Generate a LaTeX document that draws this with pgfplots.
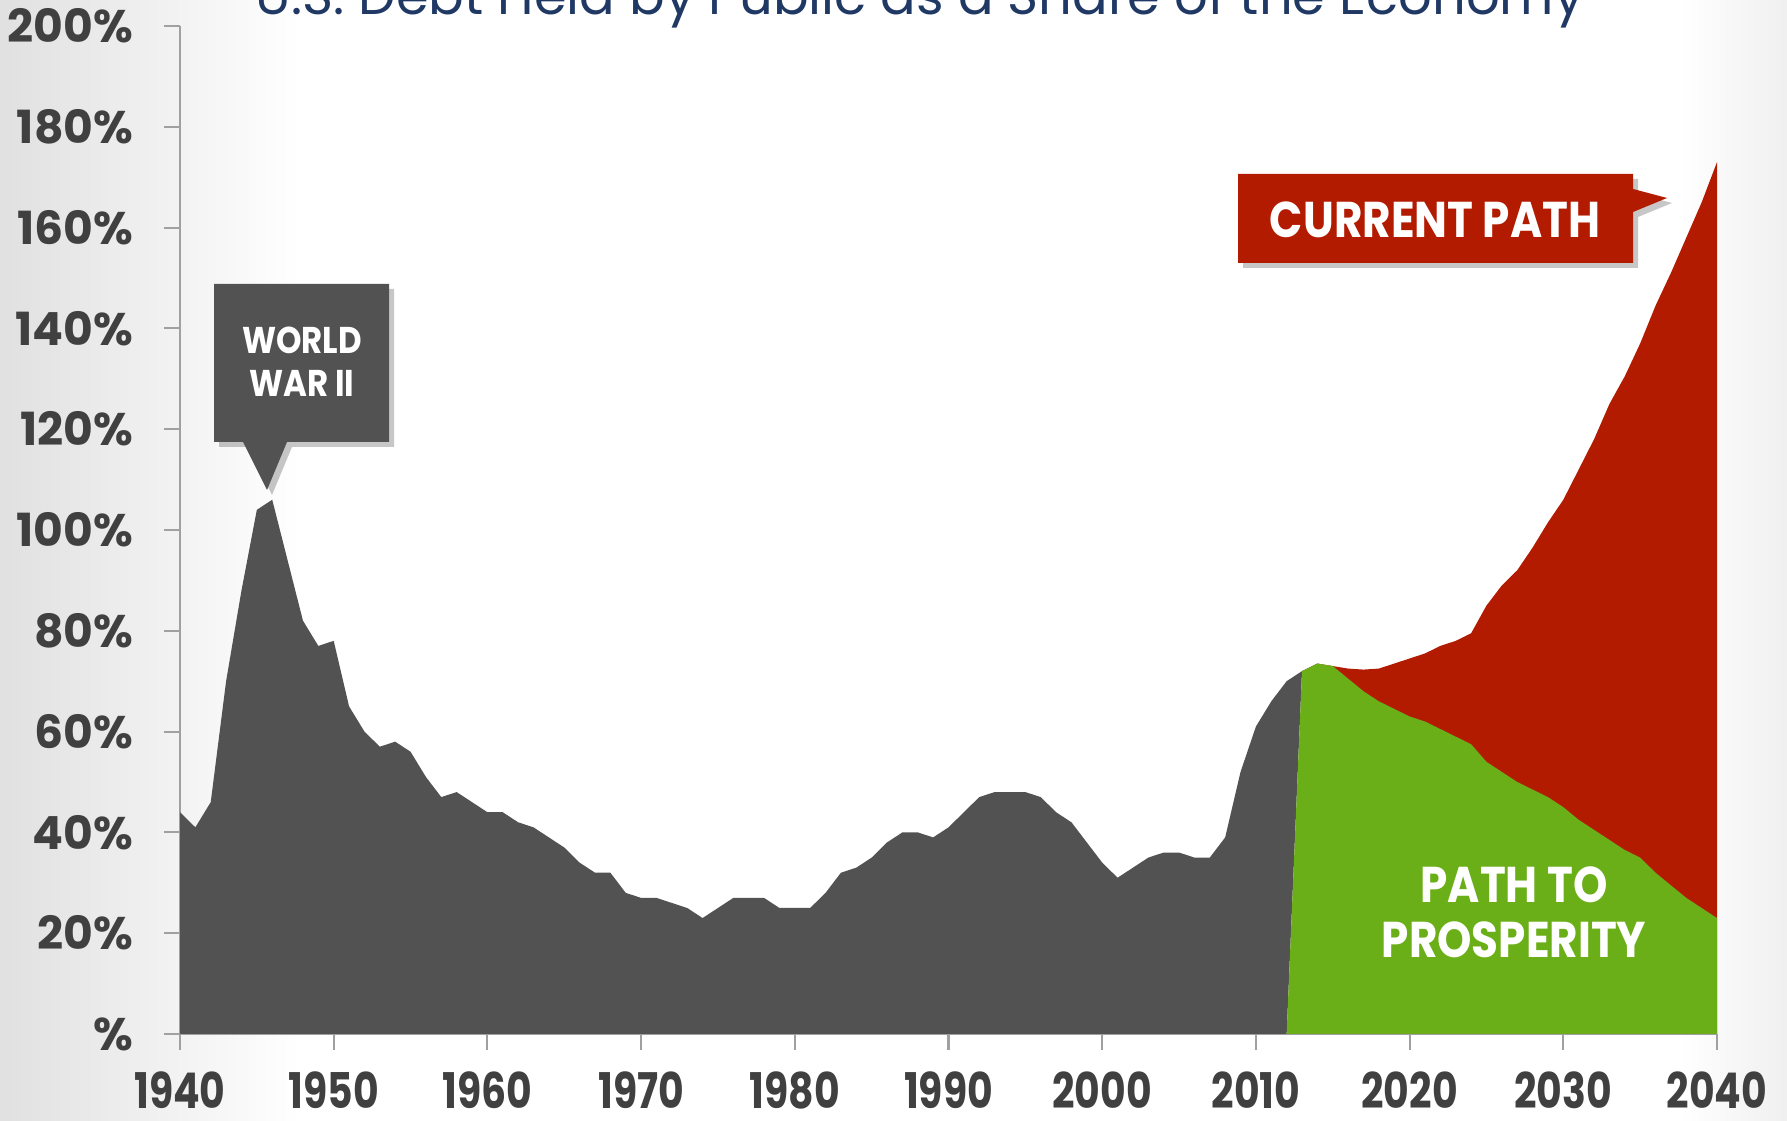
\documentclass[border=0pt]{standalone}
\usepackage{graphicx}
\usepackage{pgfplots}
\pgfplotsset{compat=1.18}
\usepackage{fontspec}
\setmainfont{Poppins}
\newfontfamily\condfont{Poppins}[FakeStretch=0.8]
\newfontfamily\narrowfont{Poppins}[FakeStretch=0.87]
\definecolor{histgray}{HTML}{525252}
\definecolor{curred}{HTML}{B31B00}
\definecolor{ptpgreen}{HTML}{6AAF17}
\definecolor{titleblue}{HTML}{1F3864}
\definecolor{labgray}{HTML}{404040}
\definecolor{axgray}{HTML}{A0A0A0}
\begin{document}
\begin{tikzpicture}[x=1mm,y=1mm]
\useasboundingbox (0,0) rectangle (178.7,112.1);
\fill[white] (0,0) rectangle (178.7,112.1);
\shade[left color=black!12, right color=white] (0,0) rectangle (30,112.1);
\shade[left color=white, right color=black!6] (168,0) rectangle (178.7,112.1);
\begin{axis}[
  at={(18mm,8.7mm)}, anchor=south west,
  scale only axis, width=153.7mm, height=100.8mm,
  xmin=1940, xmax=2040, ymin=0, ymax=200,
  axis x line*=bottom, axis y line*=left,
  axis line style={axgray, line width=0.6pt, -},
  tick style={axgray, line width=0.6pt},
  tick align=outside, major tick length=1.6mm,
  xtick={1940,1950,1960,1970,1980,1990,2000,2010,2020,2030,2040},
  xticklabels={1940,1950,1960,1970,1980,1990,2000,2010,2020,2030,2040},
  ytick={0,20,40,60,80,100,120,140,160,180,200},
  yticklabels={\%,20\%,40\%,60\%,80\%,100\%,120\%,140\%,160\%,180\%,200\%},
  yticklabel style={font=\bfseries\fontsize{13}{14}\selectfont, text=labgray, anchor=east, inner sep=0pt, xshift=-3.0mm},
  xticklabel style={font=\condfont\bfseries\fontsize{14}{15}\selectfont, text=labgray, anchor=base, inner sep=0pt, yshift=-5.9mm},
]
\addplot[draw=none, fill=histgray] coordinates {
(1940,0) (1940,44) (1941,41) (1942,46) (1943,70) (1944,88) (1945,104) (1946,106)
(1947,94) (1948,82) (1949,77) (1950,78) (1951,65) (1952,60) (1953,57) (1954,58)
(1955,56) (1956,51) (1957,47) (1958,48) (1959,46) (1960,44) (1961,44) (1962,42)
(1963,41) (1964,39) (1965,37) (1966,34) (1967,32) (1968,32) (1969,28) (1970,27)
(1971,27) (1972,26) (1973,25) (1974,23) (1975,25) (1976,27) (1977,27) (1978,27)
(1979,25) (1980,25) (1981,25) (1982,28) (1983,32) (1984,33) (1985,35) (1986,38)
(1987,40) (1988,40) (1989,39) (1990,41) (1991,44) (1992,47) (1993,48) (1994,48)
(1995,48) (1996,47) (1997,44) (1998,42) (1999,38) (2000,34) (2001,31) (2002,33)
(2003,35) (2004,36) (2005,36) (2006,35) (2007,35) (2008,39) (2009,52) (2010,61)
(2011,66) (2012,70) (2013,72) (2012,0)} -- cycle;
\addplot[draw=none, fill=curred] coordinates {
(2013,0) (2013,72) (2014,73.5) (2015,73) (2016,72.5) (2017,72.3) (2018,72.5) (2019,73.5)
(2020,74.5) (2021,75.5) (2022,77) (2023,78) (2024,79.5) (2025,85) (2026,89)
(2027,92) (2028,96.5) (2029,101.5) (2030,106) (2031,112) (2032,118) (2033,125)
(2034,130.5) (2035,137) (2036,144.5) (2037,151) (2038,158) (2039,165) (2040,173) (2040,0)} -- cycle;
\addplot[draw=none, fill=ptpgreen] coordinates {
(2012,0) (2013,72) (2014,73.5) (2015,73) (2016,70.5) (2017,68) (2018,66) (2019,64.5)
(2020,63) (2021,62) (2022,60.5) (2023,59) (2024,57.5) (2025,54) (2026,52)
(2027,50) (2028,48.5) (2029,47) (2030,45) (2031,42.5) (2032,40.5) (2033,38.5)
(2034,36.5) (2035,35) (2036,32) (2037,29.5) (2038,27) (2039,25) (2040,23) (2040,0)} -- cycle;
\end{axis}
% title (partly cut off at top as in the reference)
\node[anchor=base, text=titleblue, inner sep=0pt] at (92,110.6) {\resizebox{132.8mm}{!}{U.S. Debt Held by Public as a Share of the Economy}};
% WWII callout
\fill[black, opacity=0.22, shift={(0.5,-0.5)}] (21.4,83.7) -- (38.9,83.7) -- (38.9,67.9) -- (28.7,67.9) -- (26.7,63.1) -- (24.3,67.9) -- (21.4,67.9) -- cycle;
\fill[histgray] (21.4,83.7) -- (38.9,83.7) -- (38.9,67.9) -- (28.7,67.9) -- (26.7,63.1) -- (24.3,67.9) -- (21.4,67.9) -- cycle;
\node[anchor=base, text=white, inner sep=0pt, font=\narrowfont\bfseries\fontsize{10.6}{12}\selectfont] at (30.2,76.7) {WORLD};
\node[anchor=base, text=white, inner sep=0pt, font=\narrowfont\bfseries\fontsize{10.6}{12}\selectfont] at (30.2,72.4) {WAR II};
% Current path callout
\fill[black, opacity=0.22, shift={(0.5,-0.5)}] (123.8,94.7) -- (163.3,94.7) -- (163.3,93.2) -- (166.7,92.3) -- (163.3,90.9) -- (163.3,85.8) -- (123.8,85.8) -- cycle;
\fill[curred] (123.8,94.7) -- (163.3,94.7) -- (163.3,93.2) -- (166.7,92.3) -- (163.3,90.9) -- (163.3,85.8) -- (123.8,85.8) -- cycle;
\node[anchor=base, text=white, inner sep=0pt, font=\narrowfont\bfseries\fontsize{14.3}{16}\selectfont] at (143.5,88.3) {CURRENT PATH};
% Path to prosperity
\node[anchor=base, text=white, inner sep=0pt, font=\narrowfont\bfseries\fontsize{14.3}{16}\selectfont] at (151.4,21.8) {PATH TO};
\node[anchor=base, text=white, inner sep=0pt, font=\narrowfont\bfseries\fontsize{14.3}{16}\selectfont] at (151.4,16.3) {PROSPERITY};
\end{tikzpicture}
\end{document}
